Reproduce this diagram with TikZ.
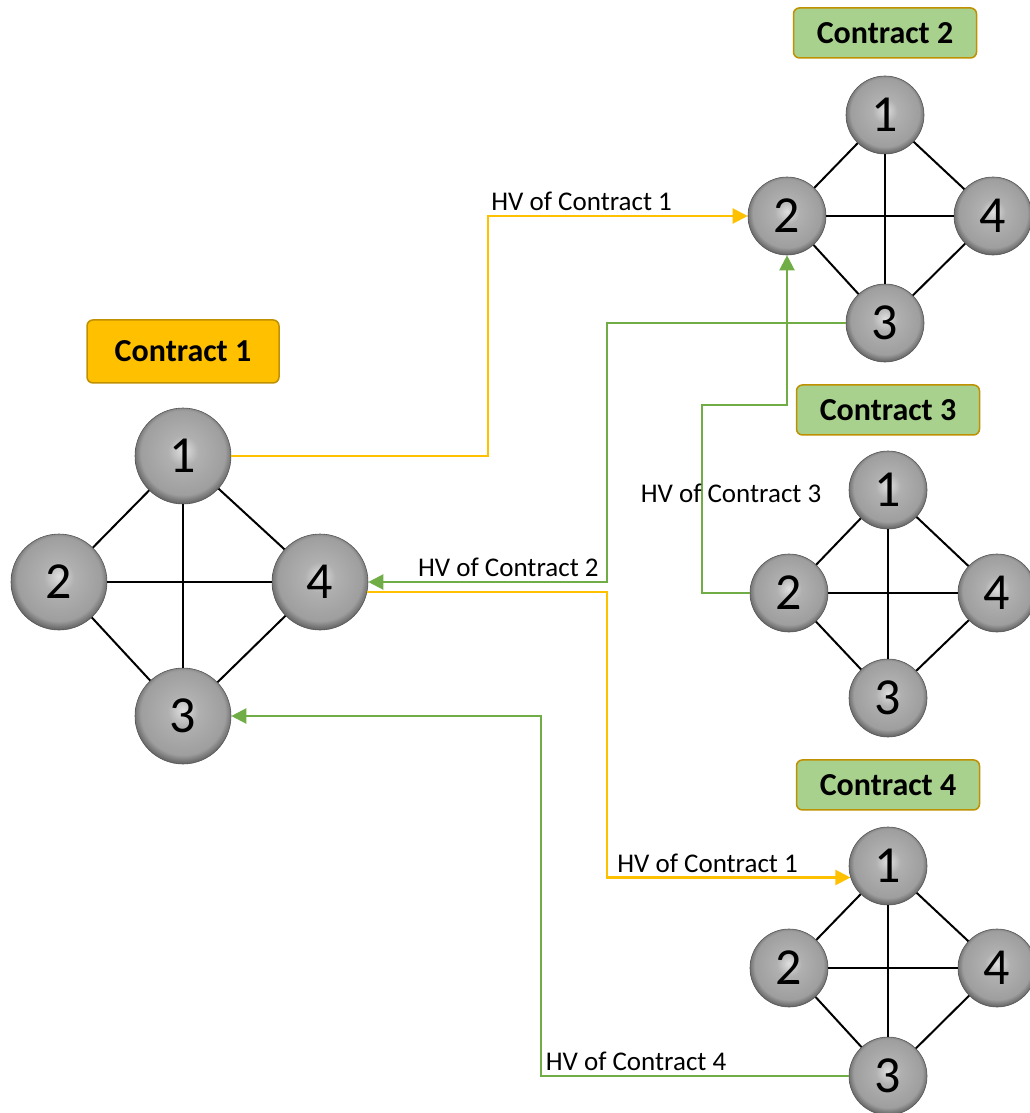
\documentclass[tikz,border=0pt]{standalone}
\usepackage{fontspec}
\setmainfont{Carlito}
\usepackage{xcolor}
\usepackage{tikz}
\usetikzlibrary{arrows.meta,positioning}
\definecolor{cYel}{RGB}{255,192,0}
\definecolor{cGrn}{RGB}{112,173,71}
\definecolor{cLeaf}{RGB}{169,209,142}
\definecolor{cGold}{RGB}{191,144,0}
\definecolor{cNode}{RGB}{176,176,176}
\definecolor{cRim}{RGB}{85,85,85}
\pgfdeclareradialshading{cBall}{\pgfpoint{0bp}{3bp}}{%
  color(0bp)=(cNode!40!white);
  color(8bp)=(cNode);
  color(22bp)=(cNode!90!black);
  color(27bp)=(cNode!50!black);
  color(50bp)=(cNode!50!black)}

\begin{document}
\begin{tikzpicture}[x=1pt,y=-1pt,
   vtx/.style={circle,shading=cBall,draw=cRim,line width=0.6pt,minimum size=78pt,inner sep=0pt,font=\fontsize{52}{52}\selectfont},
   vbig/.style={vtx,minimum size=96pt},
   ttl/.style={draw=cGold,line width=1.5pt,fill=cLeaf,rounded corners=6pt,minimum width=183pt,minimum height=50pt,font=\fontsize{32}{32}\selectfont\bfseries},
   ln/.style={line width=2pt,black},
   hy/.style={-{Triangle[length=15pt,width=15pt]},line width=2.2pt,cYel},
   hg/.style={-{Triangle[length=15pt,width=15pt]},line width=2.2pt,cGrn},
   lbl/.style={font=\fontsize{27}{27}\selectfont,text=black,inner sep=2pt}]
  \useasboundingbox (0,0) rectangle (1030,1113);
  % contract 1
  \node[vbig] (a1) at (183,456) {1};
  \node[vbig] (a2) at (59,582)  {2};
  \node[vbig] (a4) at (320,582) {4};
  \node[vbig] (a3) at (183,716) {3};
  \node[ttl,fill=cYel,minimum width=192pt,minimum height=63pt,above=24pt of a1] (t1) {Contract 1};
  % contract 2
  \node[vtx] (b1) at (885,115) {1};
  \node[vtx] (b2) at (787,216) {2};
  \node[vtx] (b4) at (993,216) {4};
  \node[vtx] (b3) at (885,323) {3};
  \node[ttl,above=17pt of b1] (t2) {Contract 2};
  % contract 3
  \node[vtx] (c1) at (888,490) {1};
  \node[vtx] (c2) at (789,593) {2};
  \node[vtx] (c4) at (997,593) {4};
  \node[vtx] (c3) at (888,698) {3};
  \node[ttl,above=15pt of c1] (t3) {Contract 3};
  % contract 4
  \node[vtx] (d1) at (888,866) {1};
  \node[vtx] (d2) at (789,968) {2};
  \node[vtx] (d4) at (997,968) {4};
  \node[vtx] (d3) at (888,1076) {3};
  \node[ttl,above=16pt of d1] (t4) {Contract 4};
  % graph edges
  \draw[ln] (a1)--(a2); \draw[ln] (a1)--(a4); \draw[ln] (a1)--(a3); \draw[ln] (a2)--(a4); \draw[ln] (a2)--(a3); \draw[ln] (a4)--(a3);
  \draw[ln] (b1)--(b2); \draw[ln] (b1)--(b4); \draw[ln] (b1)--(b3); \draw[ln] (b2)--(b4); \draw[ln] (b2)--(b3); \draw[ln] (b4)--(b3);
  \draw[ln] (c1)--(c2); \draw[ln] (c1)--(c4); \draw[ln] (c1)--(c3); \draw[ln] (c2)--(c4); \draw[ln] (c2)--(c3); \draw[ln] (c4)--(c3);
  \draw[ln] (d1)--(d2); \draw[ln] (d1)--(d4); \draw[ln] (d1)--(d3); \draw[ln] (d2)--(d4); \draw[ln] (d2)--(d3); \draw[ln] (d4)--(d3);
  % hash value messages
  \draw[hy] (a1.east) -- ++(257,0) |- (b2.west)
        node[pos=.5,lbl,anchor=south west,yshift=2pt] {HV of Contract 1};
  \draw[hg] (b3.west) -- ++(-239,0) |- (a4.east)
        node[pos=.5,lbl,anchor=south east,xshift=-5pt,yshift=2pt] {HV of Contract 2};
  \draw[hy] (a4.-12) -- ++(240,0) |- (d1.197)
        node[pos=.5,lbl,anchor=south west,xshift=7pt,yshift=2pt] {HV of Contract 1};
  \draw[hg] (d3.west) -- ++(-308,0)
        node[lbl,anchor=south west,xshift=2pt,yshift=2pt] {HV of Contract 4} |- (a3.east);
  \draw[hg] (c2.west) -- ++(-48,0) -- ++(0,-188)
        node[pos=.53,lbl,anchor=west,xshift=-64pt] {HV of Contract 3} -| (b2.south);
\end{tikzpicture}
\end{document}
